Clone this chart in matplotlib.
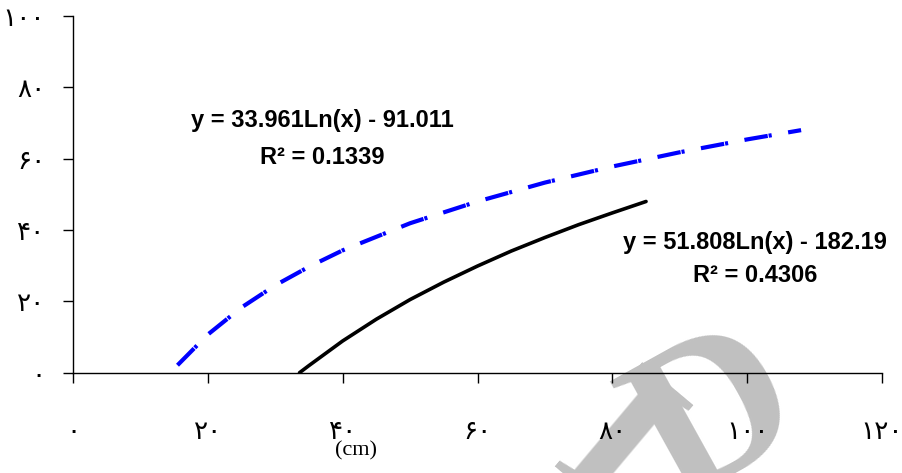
import matplotlib
matplotlib.use("Agg")
import matplotlib.pyplot as plt

# ---- data ----
blue_x = [15.5, 20, 25, 30, 35, 40, 50, 60, 70, 80, 90, 100, 108]
blue_y = [2.1, 10.7, 18.3, 24.5, 29.7, 34.3, 41.9, 48.0, 53.3, 57.8, 61.8, 65.4, 68.0]

black_x = [33.6, 35, 40, 45, 50, 55, 60, 65, 70, 75, 80, 85]
black_y = [0.0, 2.0, 8.9, 15.0, 20.5, 25.4, 29.9, 34.1, 37.9, 41.5, 44.8, 48.0]

x_ticks = [0, 20, 40, 60, 80, 100, 120]
x_tick_labels = ["۰", "۲۰", "۴۰", "۶۰", "۸۰", "۱۰۰", "۱۲۰"]
y_ticks = [0, 20, 40, 60, 80, 100]
y_tick_labels = ["۰", "۲۰", "۴۰", "۶۰", "۸۰", "۱۰۰"]

eq_blue = ["y = 33.961Ln(x) - 91.011", "R² = 0.1339"]
eq_black = ["y = 51.808Ln(x) - 182.19", "R² = 0.4306"]
x_label = "(cm)"

W, H = 903, 473
plt.rcParams['lines.scale_dashes'] = False
fig = plt.figure(figsize=(W / 100, H / 100), dpi=100)

# watermark (behind everything)
wm = dict(family="Liberation Serif", fontweight="bold", color="#c0c0c0",
          rotation_mode="anchor", ha="center", va="baseline", zorder=-5)
fig.text(742 / W, 1 - 467 / H, "D", fontsize=155, rotation=29, **wm)
fig.text(578 / W, 1 - 492 / H, "I", fontsize=150, rotation=-40, **wm)

ax = fig.add_axes([73 / W, (H - 372.7) / H, (882 - 73) / W, (372.7 - 16) / H])
ax.patch.set_alpha(0)

ax.plot(blue_x, blue_y, color="#0000ff", lw=3.0,
        linestyle=(0, (17.0, 0.7, 2.2, 12.0)), solid_capstyle="butt")
ax.plot(black_x, black_y, color="black", lw=2.6, solid_capstyle="round")

ax.set_xlim(0, 120)
ax.set_ylim(0, 100)
for s in ["top", "right"]:
    ax.spines[s].set_visible(False)
for s in ["left", "bottom"]:
    ax.spines[s].set_color("black")
    ax.spines[s].set_linewidth(1.0)

ax.set_xticks(x_ticks)
ax.set_xticklabels(x_tick_labels, family="DejaVu Sans", fontsize=19)
ax.set_yticks(y_ticks)
ax.set_yticklabels(y_tick_labels, family="DejaVu Sans", fontsize=19)
ax.tick_params(axis="x", direction="out", length=7, width=1, pad=26)
ax.tick_params(axis="y", direction="out", length=7, width=1, pad=13)

for t, yy in zip(eq_blue, [120, 157]):
    fig.text(322 / W, 1 - yy / H, t, fontsize=17, family="Liberation Sans",
             fontweight="bold", ha="center", va="center")
for t, yy in zip(eq_black, [242, 276]):
    fig.text(755 / W, 1 - yy / H, t, fontsize=17, family="Liberation Sans",
             fontweight="bold", ha="center", va="center")

fig.text(356 / W, 1 - 451 / H, x_label, fontsize=16, family="Liberation Serif",
         ha="center", va="center")

fig.savefig("out.png", dpi=100)
